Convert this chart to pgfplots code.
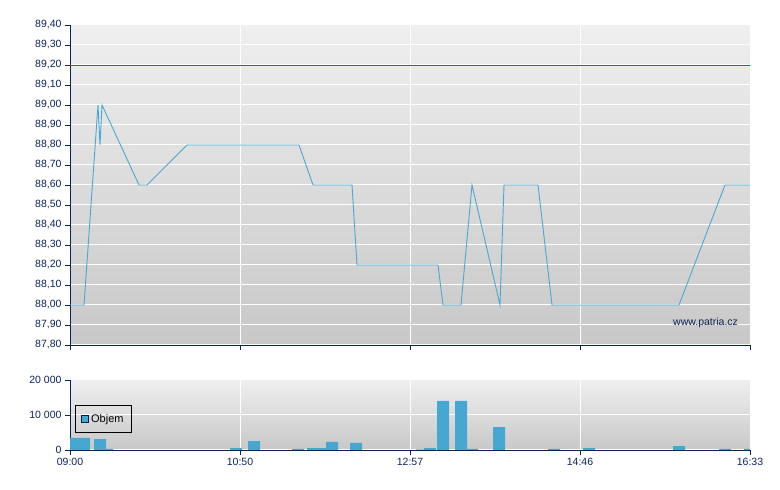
\documentclass[border=0pt]{standalone}
\usepackage{pgfplots}
\pgfplotsset{compat=1.18}
\usepackage{fontspec}
\setmainfont{Liberation Sans}

\definecolor{navy}{HTML}{0C2358}
\definecolor{lineblue}{HTML}{4AA8D2}
\definecolor{barblue}{HTML}{46A8D0}
\definecolor{refred}{HTML}{C0302C}
\definecolor{bgtop}{HTML}{EFEFEF}
\definecolor{bgbot}{HTML}{C8C8C8}

\pgfplotsset{
	patria/.style={
		scale only axis,
		anchor=south west,
		xmin=0, xmax=680,
		axis x line*=bottom,
		axis y line*=left,
		axis line style={navy, line width=0.9pt},
		tick style={navy, line width=0.9pt},
		tick align=outside,
		major tick length=5pt,
		grid=major,
		major grid style={white, line width=1pt},
		axis background/.style={top color=bgtop, bottom color=bgbot},
		ticklabel style={font=\fontsize{10.5}{12}\selectfont, text=navy},
		xtick={0,170,340,510,680},
		scaled y ticks=false,
		/pgf/number format/assume math mode=true,
	},
}

\begin{document}
\begin{tikzpicture}[x=1pt,y=1pt]
\path[use as bounding box] (0,0) rectangle (780,490);

% price
\begin{axis}[
	patria,
	at={(70pt,145pt)},
	width=680pt, height=320pt,
	ymin=87.8, ymax=89.4,
	ytick={87.8,87.9,...,89.41},
	xticklabels={},
	yticklabel style={/pgf/number format/.cd, fixed, fixed zerofill, precision=2, use comma},
]
\addplot[refred, line width=0.9pt] coordinates {(0,89.2) (680,89.2)};
\addplot[lineblue, line width=0.9pt] coordinates {
	(0,88.0) (14,88.0) (28,89.0) (30,88.8) (32,89.0)
	(69,88.6) (77,88.6) (117,88.8) (229,88.8) (243,88.6)
	(282,88.6) (287,88.2) (368,88.2) (373,88.0) (391,88.0)
	(402,88.6) (430,88.0) (434,88.6) (468,88.6) (482,88.0)
	(609,88.0) (655,88.6) (680,88.6)
};
\node[anchor=west, text=navy, font=\fontsize{10.5}{12}\selectfont, inner sep=0pt]
	at (axis cs:603,87.91) {www.patria.cz};
\end{axis}

% volume
\begin{axis}[
	patria,
	at={(70pt,40pt)},
	width=680pt, height=70pt,
	ymin=0, ymax=20000,
	ytick={0,10000,20000},
	yticklabels={0,10 000,20 000},
	xticklabels={09:00,10:50,12:57,14:46,16:33},
	legend style={at={(rel axis cs:0.0074,0.643)}, anchor=north west,
		draw=black, fill=none, line width=0.9pt,
		font=\fontsize{11}{12}\selectfont, inner xsep=6pt, inner ysep=7pt,
		/tikz/every even column/.append style={column sep=3pt}},
	legend image code/.code={\draw[fill=barblue, draw=navy!80!black, line width=0.7pt] (0pt,-3.5pt) rectangle (7pt,3.5pt);},
]
\addplot[ybar, bar width=12, bar shift=0, fill=barblue, draw=none] coordinates {
	(6,3430) (14,3430) (30,3140) (37,300) (166,570) (184,2570)
	(228,290) (243,570) (250,570) (262,2290) (286,2000)
	(352,150) (360,570) (373,14000) (391,14000) (402,290) (429,6570)
	(484,290) (519,570) (609,1140) (655,290) (680,290)
};
\addlegendentry{Objem}
\end{axis}
\end{tikzpicture}
\end{document}
